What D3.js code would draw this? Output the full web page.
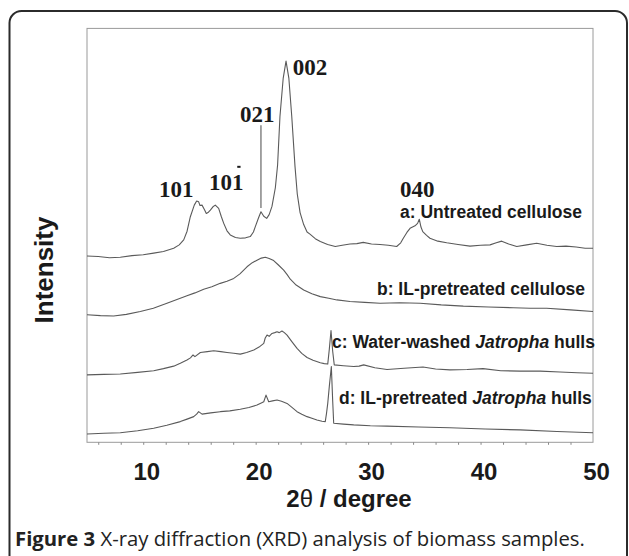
<!DOCTYPE html>
<html>
<head>
<meta charset="utf-8">
<script src="https://cdn.jsdelivr.net/npm/d3@7.9.0/dist/d3.min.js"></script>
<style>
  html, body { margin: 0; padding: 0; background: #fff; }
  svg { display: block; }
</style>
</head>
<body>
<div id="chart"></div>
<script>
// 2-theta (degree) vs intensity (a.u., curves already stacked as in the figure)
const seriesA = [
  [5.0, 45.0], [6.0, 44.9], [7.0, 44.6], [7.96, 44.7], [9.0, 45.1], [10.0, 45.3], [10.93, 45.7],
  [11.8, 46.1], [12.71, 46.9], [13.2, 47.7], [13.6, 48.9], [13.9, 51.0], [14.19, 54.5],
  [14.54, 57.3], [14.75, 58.3], [14.93, 58.1], [15.05, 57.2], [15.23, 57.3], [15.45, 56.2],
  [15.61, 55.3], [15.8, 55.6], [15.97, 56.1], [16.2, 56.9], [16.41, 57.3], [16.71, 56.5],
  [16.95, 54.5], [17.16, 52.9], [17.45, 51.1], [17.74, 50.1], [18.2, 49.5], [18.63, 49.3],
  [19.1, 49.4], [19.52, 49.7], [19.8, 50.8], [19.97, 52.1], [20.25, 54.2], [20.47, 55.7],
  [20.72, 54.6], [20.98, 54.1], [21.2, 55.0], [21.45, 57.0], [21.75, 61.5], [21.95, 67.0],
  [22.16, 78.7], [22.45, 88.0], [22.7, 92.1], [22.95, 88.0], [23.21, 78.7], [23.5, 66.6],
  [23.7, 60.0], [23.95, 55.5], [24.27, 52.6], [24.57, 50.8], [24.83, 50.3], [25.3, 49.2],
  [25.75, 48.5], [26.4, 47.8], [27.08, 47.3], [27.7, 47.6], [28.39, 47.9], [29.0, 48.0],
  [29.57, 48.3], [30.3, 47.9], [31.06, 47.8], [31.8, 47.6], [32.54, 47.3], [32.9, 48.2],
  [33.13, 49.3], [33.45, 50.7], [33.73, 51.7], [34.17, 52.3], [34.4, 52.9], [34.55, 53.9],
  [34.7, 52.0], [34.86, 50.9], [35.2, 50.0], [35.5, 49.3], [36.2, 48.6], [36.99, 48.2],
  [38.0, 47.8], [39.06, 47.4], [40.0, 47.6], [40.84, 47.7], [41.4, 48.2], [41.88, 48.6],
  [42.5, 47.9], [43.22, 47.3], [44.1, 47.7], [44.99, 48.1], [45.9, 47.6], [46.77, 47.3],
  [47.6, 47.4], [48.5, 47.2], [49.3, 46.9], [50.0, 46.9]
];

const seriesB = [
  [5.0, 30.8], [6.2, 30.6], [7.37, 30.5], [8.5, 30.9], [9.74, 31.6], [10.9, 32.4],
  [12.11, 33.6], [13.0, 34.5], [13.89, 35.4], [14.6, 36.1], [15.38, 37.0], [16.1, 37.6],
  [16.85, 38.4], [17.45, 38.9], [18.05, 39.6], [18.6, 40.7], [19.23, 42.4], [19.7, 43.4],
  [20.12, 44.0], [20.5, 44.5], [20.86, 44.7], [21.2, 44.4], [21.6, 43.9], [22.0, 42.9],
  [22.49, 41.6], [22.8, 40.5], [23.08, 39.4], [23.6, 38.0], [24.27, 36.8], [25.0, 35.9],
  [25.75, 35.2], [26.5, 34.8], [27.23, 34.4], [28.39, 34.0], [29.7, 33.8], [31.06, 33.6],
  [32.8, 33.7], [34.62, 33.6], [36.5, 33.2], [38.47, 32.9], [40.7, 32.7], [42.91, 32.5],
  [44.4, 32.4], [45.88, 32.4], [48.0, 32.0], [50.0, 31.6]
];

const seriesC = [
  [5.0, 16.3], [6.5, 16.4], [7.96, 16.5], [9.5, 16.9], [10.93, 17.3], [11.8, 17.8],
  [12.71, 18.4], [13.3, 19.1], [13.89, 19.9], [14.2, 20.4], [14.43, 21.1], [14.6, 20.7],
  [15.08, 21.7], [15.7, 21.9], [16.27, 22.1], [16.9, 21.9], [17.45, 21.7], [18.05, 21.5],
  [18.63, 21.3], [19.2, 21.7], [19.83, 22.3], [20.3, 23.0], [20.72, 23.9], [20.85, 25.2],
  [21.01, 25.9], [21.2, 25.6], [21.45, 26.3], [21.7, 26.5], [21.9, 26.7], [22.1, 26.5],
  [22.34, 26.9], [22.55, 26.5], [22.79, 25.9], [23.2, 24.4], [23.68, 22.7], [24.1, 21.5],
  [24.57, 20.5], [25.1, 19.8], [25.75, 19.2], [26.1, 19.0], [26.41, 18.9], [26.55, 22.5],
  [26.7, 27.0], [26.85, 22.0], [26.99, 18.7], [27.8, 18.5], [28.72, 18.3], [29.2, 18.4],
  [29.61, 18.7], [30.6, 18.0], [31.68, 17.6], [33.2, 17.9], [34.88, 18.2], [36.0, 17.7],
  [37.28, 17.5], [38.8, 17.6], [40.22, 17.8], [41.8, 17.3], [43.51, 17.2], [45.3, 17.2],
  [47.07, 17.0], [48.6, 16.8], [50.0, 16.7]
];

const seriesD = [
  [5.0, 2.0], [6.5, 2.2], [7.96, 2.3], [9.5, 2.8], [10.93, 3.4], [12.1, 4.1], [13.3, 5.0],
  [13.9, 5.6], [14.49, 6.2], [14.75, 6.8], [14.93, 7.4], [15.23, 6.8], [16.0, 7.1],
  [16.85, 7.4], [17.7, 7.6], [18.63, 8.0], [19.4, 8.4], [20.12, 9.0], [20.5, 9.5],
  [20.72, 9.8], [20.92, 11.4], [21.16, 9.8], [21.5, 10.0], [21.9, 10.2], [22.3, 9.9],
  [22.79, 9.4], [23.2, 8.5], [23.68, 7.4], [24.1, 6.8], [24.57, 6.2], [25.0, 5.8],
  [25.45, 5.4], [25.9, 5.1], [26.19, 5.0], [26.3, 7.0], [26.41, 9.4], [26.55, 13.5],
  [26.73, 18.3], [26.85, 10.0], [26.94, 4.6], [27.8, 4.4], [28.72, 4.2], [30.2, 4.0],
  [31.68, 3.9], [34.5, 3.7], [37.28, 3.5], [40.4, 3.2], [43.51, 3.0], [46.8, 2.6],
  [50.0, 2.3]
];

const allSeries = [seriesA, seriesB, seriesC, seriesD];

// series captions: [prefix, italic word, suffix, start 2theta, baseline intensity]
const seriesLabels = [
  ['a: Untreated cellulose', '', '', 32.84, 54.2],
  ['b: IL-pretreated cellulose', '', '', 30.79, 35.6],
  ['c: Water-washed ', 'Jatropha', ' hulls', 26.79, 22.8],
  ['d: IL-pretreated ', 'Jatropha', ' hulls', 27.41, 9.25]
];

// Miller indices: [text, left 2theta, baseline intensity]
const peakLabels = [
  ['101', 11.4, 59.3],
  ['101', 15.85, 61.0],
  ['021', 18.6, 77.4],
  ['002', 23.3, 88.7],
  ['040', 32.84, 59.3]
];

const xTickLabels = [10, 20, 30, 40, 50];
const xMinorTicks = d3.range(6, 50, 2);

function renderChart() {
  const W = 629, H = 556;
  const frame = { left: 87, right: 593, top: 28.4, bottom: 442.3 };

  const svg = d3.select('#chart').append('svg')
    .attr('width', W)
    .attr('height', H);

  // outer rounded panel
  svg.append('rect')
    .attr('x', 9.5).attr('y', 11)
    .attr('width', 617.5).attr('height', 620)
    .attr('rx', 12).attr('ry', 12)
    .attr('fill', 'none')
    .attr('stroke', '#2b2b2b')
    .attr('stroke-width', 2);

  const x = d3.scaleLinear().domain([5, 50]).range([frame.left, frame.right]);
  const y = d3.scaleLinear().domain([0, 100]).range([frame.bottom, frame.top]);

  // plot frame
  svg.append('rect')
    .attr('x', frame.left).attr('y', frame.top)
    .attr('width', frame.right - frame.left)
    .attr('height', frame.bottom - frame.top)
    .attr('fill', 'none')
    .attr('stroke', '#9a9a9a')
    .attr('stroke-width', 1);

  // minor ticks
  const ticks = svg.append('g')
    .attr('transform', `translate(0,${frame.bottom})`)
    .call(d3.axisBottom(x).tickValues(xMinorTicks).tickSize(2.5).tickFormat(''));
  ticks.select('.domain').remove();
  ticks.selectAll('line').attr('stroke', '#888');

  // tick labels
  const labels = svg.append('g')
    .attr('transform', `translate(0,${frame.bottom})`)
    .call(d3.axisBottom(x).tickValues(xTickLabels).tickSize(0).tickPadding(21));
  labels.select('.domain').remove();
  labels.selectAll('text')
    .attr('dx', 3)
    .attr('fill', '#1a1a1a')
    .style('font-family', 'Liberation Sans, Arial, sans-serif')
    .style('font-weight', 'bold')
    .style('font-size', '24px');

  // curves
  const line = d3.line()
    .x((d) => x(d[0]))
    .y((d) => y(d[1]));

  svg.selectAll('path.xrd')
    .data(allSeries)
    .enter()
    .append('path')
    .attr('class', 'xrd')
    .attr('d', line)
    .attr('fill', 'none')
    .attr('stroke', '#5a5a5a')
    .attr('stroke-width', 1.1)
    .attr('stroke-linejoin', 'round');

  // 021 leader line
  svg.append('line')
    .attr('x1', x(20.47)).attr('x2', x(20.47))
    .attr('y1', y(76.6)).attr('y2', y(56.6))
    .attr('stroke', '#666')
    .attr('stroke-width', 1.2);

  // Miller index labels
  const peaks = svg.selectAll('text.peak')
    .data(peakLabels)
    .enter()
    .append('text')
    .attr('class', 'peak')
    .attr('x', (d) => x(d[1]))
    .attr('y', (d) => y(d[2]))
    .attr('fill', '#1a1a1a')
    .style('font-family', 'Liberation Serif, Times New Roman, serif')
    .style('font-weight', 'bold')
    .style('font-size', '23px')
    .text((d) => d[0]);

  // overbar on the second 101
  const bar = peaks.filter((d, i) => i === 1).node();
  const b0 = bar.getStartPositionOfChar(2);
  const b1 = bar.getEndPositionOfChar(2);
  const mid = (b0.x + b1.x) / 2 + 1;
  svg.append('line')
    .attr('x1', mid - 1.5).attr('x2', mid + 1.8)
    .attr('y1', b0.y - 23).attr('y2', b0.y - 23)
    .attr('stroke', '#1a1a1a')
    .attr('stroke-width', 2);

  // series captions
  const captions = svg.selectAll('text.series')
    .data(seriesLabels)
    .enter()
    .append('text')
    .attr('class', 'series')
    .attr('x', (d) => x(d[3]))
    .attr('y', (d) => y(d[4]))
    .attr('fill', '#1a1a1a')
    .style('font-family', 'Liberation Sans, Arial, sans-serif')
    .style('font-weight', 'bold')
    .style('font-size', '17.5px');
  captions.append('tspan').text((d) => d[0]);
  captions.append('tspan').style('font-style', 'italic').text((d) => d[1]);
  captions.append('tspan').text((d) => d[2]);

  // axis titles
  svg.append('text')
    .attr('transform', 'translate(53,270) rotate(-90)')
    .attr('text-anchor', 'middle')
    .attr('fill', '#1a1a1a')
    .style('font-family', 'Liberation Sans, Arial, sans-serif')
    .style('font-weight', 'bold')
    .style('font-size', '26px')
    .text('Intensity');

  const xTitle = svg.append('text')
    .attr('x', 349).attr('y', 507)
    .attr('text-anchor', 'middle')
    .attr('fill', '#1a1a1a')
    .style('font-family', 'Liberation Sans, Arial, sans-serif')
    .style('font-weight', 'bold')
    .style('font-size', '24px');
  xTitle.append('tspan').text('2');
  xTitle.append('tspan').style('font-weight', 'normal').text('θ');
  xTitle.append('tspan').text(' / degree');

  // figure caption
  const cap = svg.append('text')
    .attr('x', 15).attr('y', 546)
    .attr('fill', '#222')
    .style('font-family', 'Open Sans, sans-serif')
    .style('font-size', '20.3px');
  cap.append('tspan').style('font-weight', 'bold').text('Figure 3');
  cap.append('tspan').text(' X-ray diffraction (XRD) analysis of biomass samples.');
}

renderChart();
</script>
</body>
</html>
